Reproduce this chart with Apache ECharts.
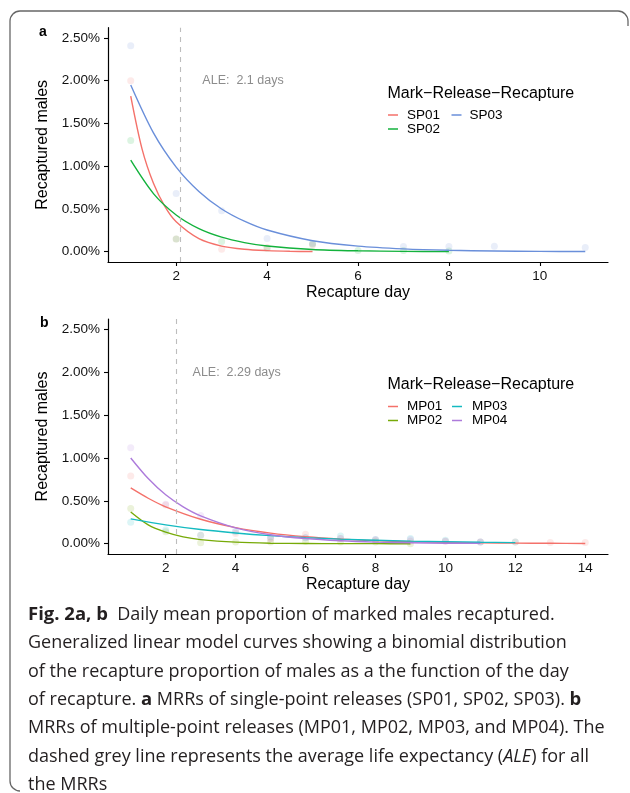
<!DOCTYPE html>
<html>
<head>
<meta charset="utf-8">
<script src="https://cdn.jsdelivr.net/npm/echarts@6/dist/echarts.min.js"></script>
<style>
  html, body { margin: 0; padding: 0; background: #fff; }
  #chart { width: 630px; height: 793px; }
</style>
</head>
<body>
<div id="chart"></div>
<script>
// panel a: single-point releases (day, % recaptured)
var sp01Pts = [[1, 2.0], [2, 0.15], [3, 0.03], [4, 0.05], [5, 0.08]];
var sp02Pts = [[1, 1.3], [2, 0.15], [3, 0.12], [4, 0.04], [5, 0.09], [6, 0.015], [7, 0.015], [8, 0.01]];
var sp03Pts = [[1, 2.41], [2, 0.68], [3, 0.48], [4, 0.155], [5, 0.1], [7, 0.06], [8, 0.06], [9, 0.065], [11, 0.05]];
var sp01Fit = [[1, 1.82], [1.25, 1.2], [1.5, 0.8], [1.75, 0.53], [2, 0.35], [2.5, 0.153], [3, 0.066], [3.5, 0.029], [4, 0.013], [4.5, 0.005], [5, 0.002]];
var sp02Fit = [[1, 1.07], [1.5, 0.68], [2, 0.43], [2.5, 0.27], [3, 0.17], [3.5, 0.107], [4, 0.067], [5, 0.027], [6, 0.011], [7, 0.004], [8, 0.002]];
var sp03Fit = [[1, 1.95], [1.5, 1.39], [2, 0.99], [2.5, 0.705], [3, 0.5], [3.5, 0.357], [4, 0.254], [5, 0.129], [6, 0.066], [7, 0.034], [8, 0.017], [9, 0.009], [10, 0.004], [11, 0.002]];

// panel b: multiple-point releases
var mp01Pts = [[1, 0.79], [2, 0.45], [3, 0.1], [4, 0.12], [5, 0.06], [6, 0.11], [7, 0.06], [8, 0.04], [9, 0.03], [10, 0.03], [11, 0.02], [12, 0.02], [13, 0.015], [14, 0.015]];
var mp02Pts = [[1, 0.41], [2, 0.14], [3, 0.01], [4, 0.02], [5, 0.02], [6, 0.03], [7, 0.02], [8, 0.02], [9, 0.0]];
var mp03Pts = [[1, 0.25], [2, 0.16], [3, 0.1], [4, 0.14], [5, 0.08], [6, 0.07], [7, 0.09], [8, 0.05], [9, 0.06], [10, 0.04], [11, 0.02], [12, 0.02]];
var mp04Pts = [[1, 1.12], [2, 0.46], [3, 0.33], [4, 0.15], [5, 0.06], [6, 0.07], [7, 0.06], [8, 0.05], [9, 0.05], [10, 0.03], [11, 0.02]];
var mp01Fit = [[1, 0.65], [1.5, 0.53], [2, 0.43], [3, 0.285], [4, 0.188], [5, 0.124], [6, 0.082], [7, 0.054], [8, 0.036], [9, 0.024], [10, 0.016], [11, 0.01], [12, 0.007], [13, 0.005], [14, 0.003]];
var mp02Fit = [[1, 0.37], [1.5, 0.22], [2, 0.135], [2.5, 0.08], [3, 0.048], [4, 0.018], [5, 0.006], [6, 0.002], [7, 0.001], [8, 0.0005], [9, 0.0002]];
var mp03Fit = [[1, 0.29], [2, 0.22], [3, 0.165], [4, 0.125], [5, 0.094], [6, 0.071], [7, 0.053], [8, 0.04], [9, 0.03], [10, 0.023], [11, 0.017], [12, 0.013]];
var mp04Fit = [[1, 1.0], [1.5, 0.76], [2, 0.57], [2.5, 0.43], [3, 0.325], [4, 0.185], [5, 0.105], [6, 0.06], [7, 0.034], [8, 0.019], [9, 0.011], [10, 0.006], [11, 0.004]];

var aleA = 2.1, aleB = 2.29;
var yTicks = [0, 0.5, 1, 1.5, 2, 2.5];
var xTicksA = [2, 4, 6, 8, 10];
var xTicksB = [2, 4, 6, 8, 10, 12, 14];

var captionLines = [
  '{b|Fig. 2a, b}  Daily mean proportion of marked males recaptured.',
  'Generalized linear model curves showing a binomial distribution',
  'of the recapture proportion of males as a the function of the day',
  'of recapture. {b|a} MRRs of single-point releases (SP01, SP02, SP03). {b|b}',
  'MRRs of multiple-point releases (MP01, MP02, MP03, and MP04). The',
  'dashed grey line represents the average life expectancy ({i|ALE}) for all',
  'the MRRs'
];

var cRed = '#F4716A', cGreen = '#13B23C', cBlue = '#6A8FDA';
var cRed4 = '#F4716A', cOlive = '#77AA08', cCyan = '#14BAC0', cPurple = '#AD7BDB';
var FONT = '"Liberation Sans", Arial, sans-serif';
var CAP = '"Open Sans", sans-serif';

var myChart = echarts.init(document.getElementById('chart'));

function xAxisOf(grid, min, max, ticks) {
  return {
    type: 'value', gridIndex: grid, min: min, max: max,
    name: 'Recapture day', nameLocation: 'middle', nameGap: 23,
    nameTextStyle: { fontFamily: FONT, fontSize: 16, color: '#000' },
    axisLine: { onZero: false, lineStyle: { color: '#000', width: 1.2 } },
    axisTick: { customValues: ticks, length: 4, lineStyle: { color: '#000', width: 1.1 } },
    axisLabel: { customValues: ticks, margin: 7, fontFamily: FONT, fontSize: 13.5, color: '#111' },
    splitLine: { show: false }
  };
}
function yAxisOf(grid) {
  return {
    type: 'value', gridIndex: grid, min: -0.12, max: 2.62,
    name: 'Recaptured males', nameLocation: 'middle', nameGap: 57,
    nameTextStyle: { fontFamily: FONT, fontSize: 16, color: '#000' },
    axisLine: { onZero: false, lineStyle: { color: '#000', width: 1.2 } },
    axisTick: { customValues: yTicks, length: 4, lineStyle: { color: '#000', width: 1.1 } },
    axisLabel: { customValues: yTicks, margin: 8, fontFamily: FONT, fontSize: 13.5, color: '#111',
      formatter: function (v) { return v.toFixed(2) + '%'; } },
    splitLine: { show: false }
  };
}
function pts(name, data, color, grid) {
  return { name: name + ' obs', type: 'scatter', xAxisIndex: grid, yAxisIndex: grid, data: data,
    symbolSize: 7, itemStyle: { color: color, opacity: 0.15 }, silent: true, z: 1 };
}
function fit(name, data, color, grid) {
  return { name: name, type: 'line', xAxisIndex: grid, yAxisIndex: grid, data: data,
    smooth: 0.3, showSymbol: false, symbol: 'none', lineStyle: { color: color, width: 1.4 },
    itemStyle: { color: color }, z: 3 };
}
function aleMarks(s, ale, labelX, label) {
  s.markLine = { silent: true, symbol: ['none', 'none'], label: { show: false },
    lineStyle: { color: '#bdbdbd', type: [5, 5], width: 1.1 }, data: [{ xAxis: ale }] };
  s.markPoint = { silent: true, symbol: 'circle', symbolSize: 0,
    label: { show: true, position: 'inside', color: '#8c8c8c', fontFamily: FONT, fontSize: 12.5, formatter: label },
    data: [{ coord: [labelX, 2.0] }] };
  return s;
}
function legendOf(names, left, top, textPad) {
  return { data: names, orient: 'vertical', left: left, top: top, itemGap: 0, padding: 0,
    icon: 'rect', itemWidth: 10, itemHeight: 1.5, selectedMode: false,
    textStyle: { fontFamily: FONT, fontSize: 13.5, color: '#000', padding: [0, 0, 0, textPad], lineHeight: 12.7 } };
}

var series = [
  pts('SP01', sp01Pts, cRed, 0), pts('SP02', sp02Pts, cGreen, 0), pts('SP03', sp03Pts, cBlue, 0),
  aleMarks(fit('SP01', sp01Fit, cRed, 0), aleA, 3.47, 'ALE:  2.1 days'),
  fit('SP02', sp02Fit, cGreen, 0), fit('SP03', sp03Fit, cBlue, 0),
  pts('MP01', mp01Pts, cRed4, 1), pts('MP02', mp02Pts, cOlive, 1), pts('MP03', mp03Pts, cCyan, 1), pts('MP04', mp04Pts, cPurple, 1),
  aleMarks(fit('MP01', mp01Fit, cRed4, 1), aleB, 4.03, 'ALE:  2.29 days'),
  fit('MP02', mp02Fit, cOlive, 1), fit('MP03', mp03Fit, cCyan, 1), fit('MP04', mp04Fit, cPurple, 1)
];

var frameStyle = { fill: null, stroke: '#666', lineWidth: 1.3 };
var graphics = [
  { type: 'line', silent: true, shape: { x1: 20, y1: 11, x2: 618, y2: 11 }, style: frameStyle },
  { type: 'line', silent: true, shape: { x1: 10, y1: 21, x2: 10, y2: 781 }, style: frameStyle },
  { type: 'line', silent: true, shape: { x1: 628, y1: 21, x2: 628, y2: 26 }, style: frameStyle },
  { type: 'arc', silent: true, shape: { cx: 20, cy: 21, r: 10, startAngle: Math.PI, endAngle: Math.PI * 1.5 }, style: frameStyle },
  { type: 'arc', silent: true, shape: { cx: 618, cy: 21, r: 10, startAngle: Math.PI * 1.5, endAngle: Math.PI * 2 }, style: frameStyle },
  { type: 'arc', silent: true, shape: { cx: 20, cy: 781, r: 10, startAngle: Math.PI * 0.5, endAngle: Math.PI }, style: frameStyle },
  { type: 'text', x: 39, y: 32, style: { text: 'a', font: 'bold 14px ' + FONT, fill: '#000', verticalAlign: 'middle' } },
  { type: 'text', x: 40, y: 323, style: { text: 'b', font: 'bold 14px ' + FONT, fill: '#000', verticalAlign: 'middle' } },
  { type: 'text', x: 387.5, y: 93.5, style: { text: 'Mark\u2212Release\u2212Recapture', font: '16px ' + FONT, fill: '#000', verticalAlign: 'middle' } },
  { type: 'text', x: 387.5, y: 385, style: { text: 'Mark\u2212Release\u2212Recapture', font: '16px ' + FONT, fill: '#000', verticalAlign: 'middle' } }
];
var capY = [615, 643.3, 671.7, 700, 728.3, 756.7, 785];
for (var i = 0; i < captionLines.length; i++) {
  graphics.push({ type: 'text', x: 28, y: capY[i], silent: true, style: {
    text: captionLines[i], fontFamily: CAP, fontSize: 18, fill: '#231f20', verticalAlign: 'middle',
    rich: {
      b: { fontFamily: CAP, fontSize: 18.5, fontWeight: 'bold', fill: '#231f20' },
      i: { fontFamily: CAP, fontSize: 18, fontStyle: 'italic', fill: '#231f20' }
    } } });
}

var option = {
  animation: false,
  backgroundColor: '#fff',
  grid: [
    { left: 108, top: 27.7, width: 500, height: 234.3 },
    { left: 108, top: 319, width: 500, height: 235 }
  ],
  xAxis: [xAxisOf(0, 0.5, 11.5, xTicksA), xAxisOf(1, 0.35, 14.65, xTicksB)],
  yAxis: [yAxisOf(0), yAxisOf(1)],
  legend: [
    legendOf(['SP01', 'SP02'], 388, 108, 4),
    legendOf(['SP03'], 451.5, 108, 3),
    legendOf(['MP01', 'MP02'], 388, 399.5, 4),
    legendOf(['MP03', 'MP04'], 452, 399.5, 5)
  ],
  series: series,
  graphic: graphics
};
myChart.setOption(option);
</script>
</body>
</html>
